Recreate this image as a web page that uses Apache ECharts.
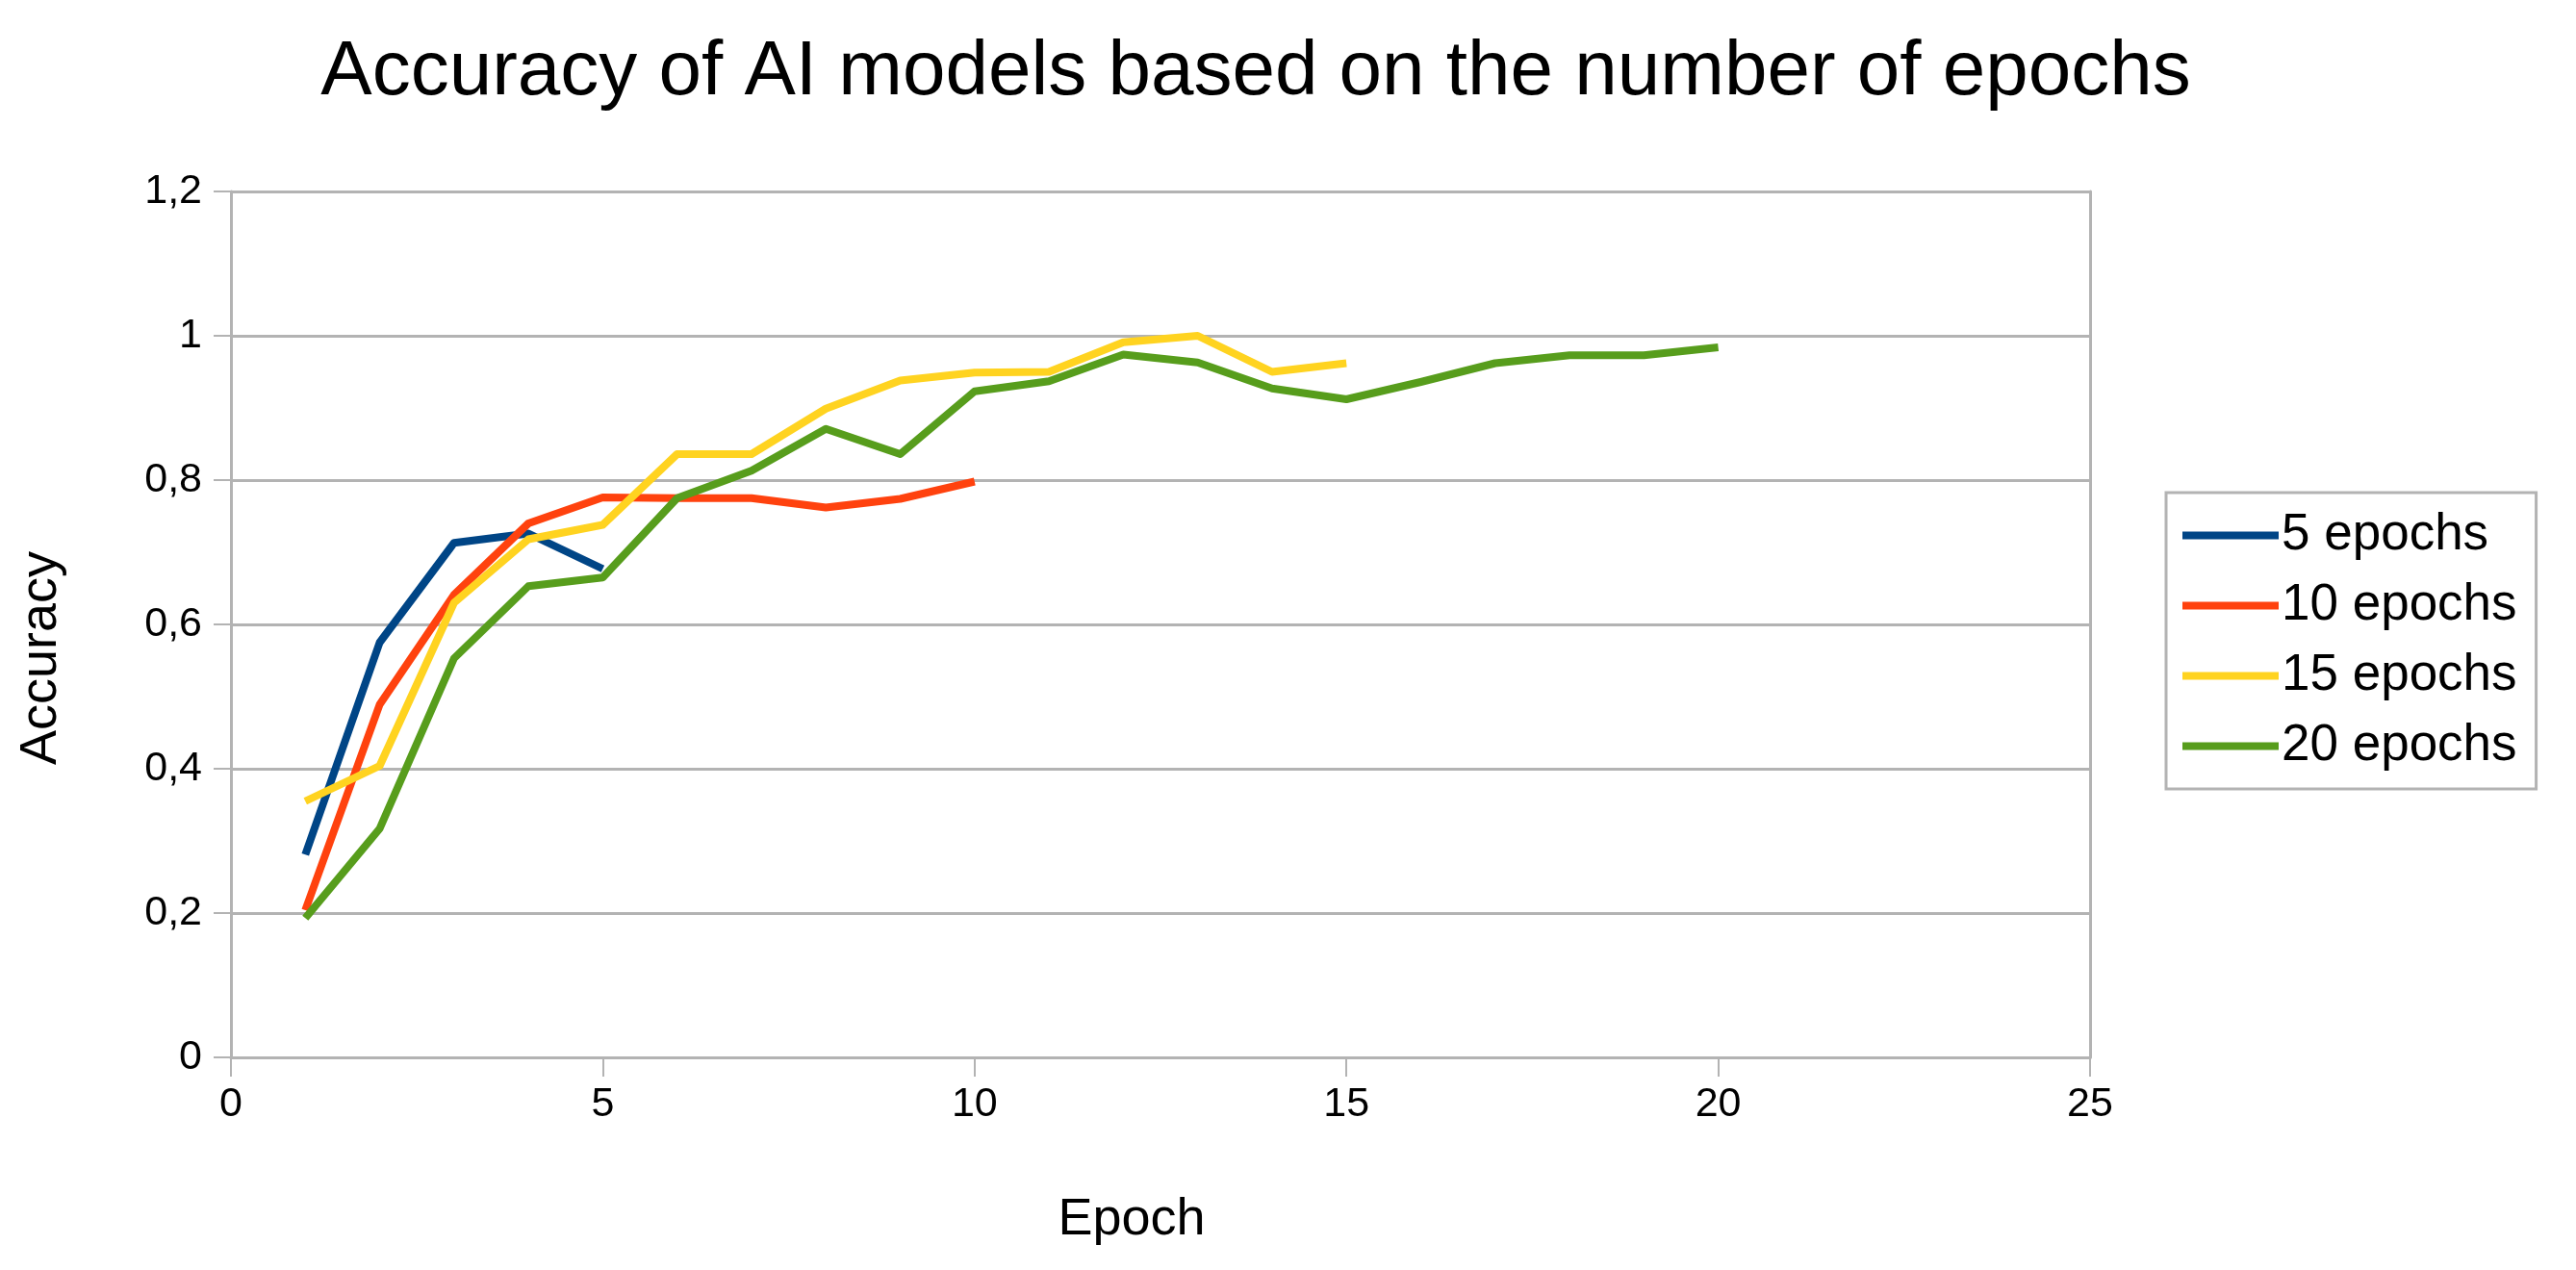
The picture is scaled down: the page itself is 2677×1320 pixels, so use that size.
<!DOCTYPE html>
<html><head><meta charset="utf-8">
<script src="https://cdn.jsdelivr.net/npm/echarts@6/dist/echarts.min.js"></script>
<style>html,body{margin:0;padding:0;background:#fff}#c{width:2677px;height:1320px}</style>
</head><body><div id="c"></div>
<script>
const epochs = [1,2,3,4,5,6,7,8,9,10,11,12,13,14,15,16,17,18,19,20];
const acc5  = [0.281,0.575,0.713,0.726,0.677];
const acc10 = [0.204,0.489,0.641,0.74,0.776,0.775,0.775,0.762,0.774,0.798];
const acc15 = [0.355,0.404,0.63,0.718,0.738,0.836,0.836,0.899,0.938,0.949,0.95,0.991,1.0,0.95,0.962];
const acc20 = [0.193,0.317,0.553,0.653,0.665,0.775,0.813,0.871,0.836,0.923,0.937,0.974,0.963,0.927,0.912,0.936,0.962,0.973,0.973,0.984];
const seriesNames = ['5 epochs','10 epochs','15 epochs','20 epochs'];
const seriesColors = ['#004586','#ff420e','#ffd320','#579d1c'];
const xTicks = [0,5,10,15,20,25];
const yTicks = [0,0.2,0.4,0.6,0.8,1,1.2];

const all = [acc5, acc10, acc15, acc20];
const FONT = "'Liberation Sans',Arial,sans-serif";
const chart = echarts.init(document.getElementById('c'), null, {renderer:'canvas'});
chart.setOption({
  backgroundColor:'#ffffff',
  animation:false,
  title:{
    text:'Accuracy of AI models based on the number of epochs',
    left:1305, top:36, textAlign:'center', padding:0,
    textStyle:{fontFamily:FONT, fontSize:80, fontWeight:'normal', color:'#000'}
  },
  legend:{
    orient:'vertical', left:2251, top:512,
    width:394,
    padding:[18,20,18,17],
    borderColor:'#b3b3b3', borderWidth:3,
    itemWidth:100, itemHeight:8, itemGap:20,
    icon:'rect',
    textStyle:{fontFamily:FONT, fontSize:53, color:'#000', padding:[0,0,0,-2]},
    data: seriesNames
  },
  grid:{left:240, right:505, top:199, bottom:221, containLabel:false},
  xAxis:{
    type:'value', min:0, max:25, interval:5,
    name:'Epoch', nameLocation:'middle', nameGap:142,
    nameTextStyle:{fontFamily:FONT, fontSize:54, color:'#000', padding:[0,60,0,0]},
    axisLine:{show:true, lineStyle:{color:'#b3b3b3', width:3}},
    axisTick:{show:true, length:20, lineStyle:{color:'#b3b3b3', width:2}},
    axisLabel:{fontFamily:FONT, fontSize:43, color:'#000', margin:28,
      formatter:v=>xTicks.includes(v)?String(v):''},
    splitLine:{show:false}
  },
  yAxis:[{
    type:'value', min:0, max:1.2, interval:0.2,
    name:'Accuracy', nameLocation:'middle', nameGap:170, nameRotate:90,
    nameTextStyle:{fontFamily:FONT, fontSize:54, color:'#000', padding:[0,0,0,-70]},
    axisLine:{show:true, lineStyle:{color:'#b3b3b3', width:3}},
    axisTick:{show:true, length:18, lineStyle:{color:'#b3b3b3', width:2}},
    axisLabel:{fontFamily:FONT, fontSize:43, color:'#000', margin:30,
      formatter:v=>{const t=yTicks.find(k=>Math.abs(k-v)<1e-9); return t===undefined?'':String(+t.toFixed(1)).replace('.',',');}},
    splitLine:{show:true, lineStyle:{color:'#b3b3b3', width:3}}
  },{
    type:'value', min:0, max:1.2, interval:0.2, position:'right',
    axisLine:{show:true, lineStyle:{color:'#b3b3b3', width:3}},
    axisTick:{show:false}, axisLabel:{show:false}, splitLine:{show:false}
  }],
  series: all.map((arr,i)=>({
    name:seriesNames[i], type:'line', yAxisIndex:0,
    data: arr.map((v,j)=>[epochs[j], v]),
    showSymbol:false, symbol:'none',
    lineStyle:{width:8, color:seriesColors[i], join:'round', cap:'butt'},
    itemStyle:{color:seriesColors[i]},
    z: 2+i
  }))
});
</script></body></html>
